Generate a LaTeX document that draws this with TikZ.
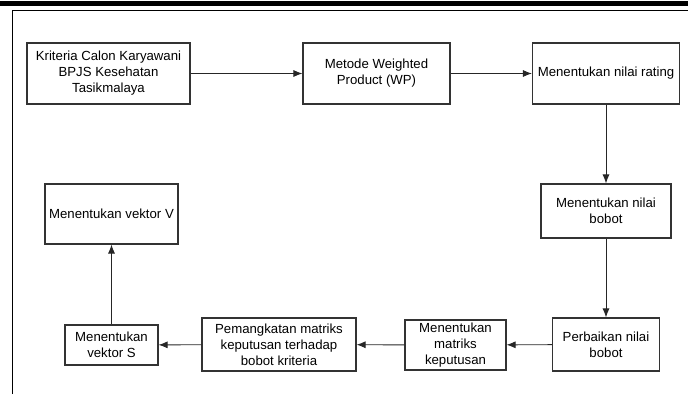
\documentclass[tikz,border=0pt]{standalone}
\usepackage{fontspec}
\setmainfont{Liberation Sans}
\usetikzlibrary{arrows.meta, positioning}

\tikzset{
  langkah/.style={draw=black!80, line width=1.1pt, fill=white, align=center,
    inner sep=2pt, font=\fontsize{13.2}{16}\selectfont},
  panah/.style={-{Latex[length=9pt,width=7pt]}, black!85, line width=0.9pt}
}

\begin{document}
\begin{tikzpicture}[x=1pt, y=-1pt]
          \useasboundingbox (0,0) rectangle (688,394);
          % bingkai
          \fill[black] (0,0.5) rectangle (688,5.5);
          \draw[line width=1pt] (12,394) -- (12,10) -- (688,10);

          \node[langkah, minimum width=163pt, minimum height=61pt] (kriteria) at (108.5,73.5) {Kriteria Calon Karyawani\\BPJS Kesehatan\\Tasikmalaya};
          \node[langkah, minimum width=147pt, minimum height=61pt] (wp) at (376.5,73.5) {Metode Weighted\\Product (WP)};
          \node[langkah, minimum width=147pt, minimum height=61pt] (rating) at (606,73.5) {Menentukan nilai rating};
          \node[langkah, minimum width=130pt, minimum height=54pt] (bobot) at (606,211) {Menentukan nilai\\bobot};
          \node[langkah, minimum width=107pt, minimum height=53pt] (perbaikan) at (606,344.5) {Perbaikan nilai\\bobot};
          \node[langkah, minimum width=101pt, minimum height=50pt] (matriks) at (455.5,345) {Menentukan\\matriks\\keputusan};
          \node[langkah, minimum width=154pt, minimum height=53pt] (pangkat) at (279,344.5) {Pemangkatan matriks\\keputusan terhadap\\bobot kriteria};
          \node[langkah, minimum width=93pt, minimum height=40pt] (vektorS) at (111.5,345) {Menentukan\\vektor S};
          \node[langkah, minimum width=133pt, minimum height=60pt] (vektorV) at (111.5,214) {Menentukan vektor V};

          \draw[panah] (kriteria) -- (wp);
          \draw[panah] (wp) -- (rating);
          \draw[panah] (rating) -- (bobot);
          \draw[panah] (bobot) -- (perbaikan);
          \draw[panah] (perbaikan) -- (matriks);
          \draw[panah] (matriks) -- (pangkat);
          \draw[panah] (pangkat) -- (vektorS);
          \draw[panah] (vektorS) -- (vektorV);
        \end{tikzpicture}
\end{document}
